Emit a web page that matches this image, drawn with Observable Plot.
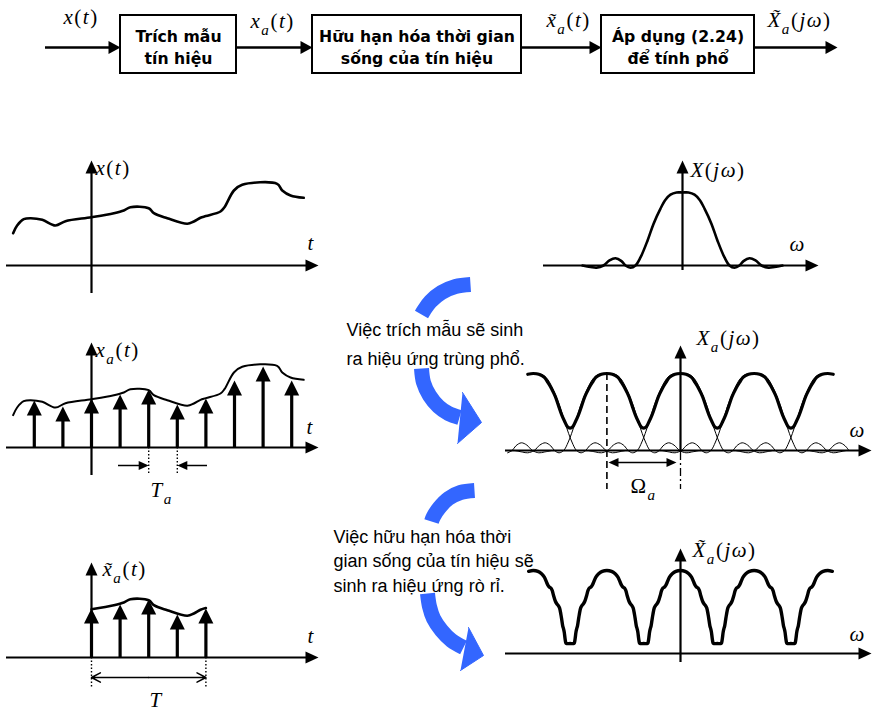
<!DOCTYPE html>
<html><head><meta charset="utf-8">
<script src="https://cdn.jsdelivr.net/npm/d3@7"></script>
<script src="https://cdn.jsdelivr.net/npm/@observablehq/plot@0.6"></script>
<style>
html,body{margin:0;padding:0;background:#fff;}
#chart{position:relative;width:873px;height:711px;overflow:hidden;background:#fff;}
#chart svg{position:absolute;left:0;top:0;}
</style></head><body><div id="chart"></div>
<script>
// ================= DATA =================
const blockLines = ["Trích mẫu\ntín hiệu", "Hữu hạn hóa thời gian\nsống của tín hiệu", "Áp dụng (2.24)\nđể tính phổ"];
const flowLabels = ["x(t)", "x_a(t)", "x\u0303_a(t)", "X\u0303_a(jω)"];
const panelLabels = ["x(t)", "X(jω)", "x_a(t)", "X_a(jω)", "x\u0303_a(t)", "X\u0303_a(jω)"];
const axisNames = ["t", "ω", "t", "ω", "t", "ω"];
const spanLabels = ["T_a", "Ω_a", "T"];
const notes = ["Việc trích mẫu sẽ sinh\nra hiệu ứng trùng phổ.",
               "Việc hữu hạn hóa thời\ngian sống của tín hiệu sẽ\nsinh ra hiệu ứng rò rỉ."];

// continuous signal x(t): t in sampling periods, amplitude in arbitrary units
const signalT = [-2.74,-2.6,-2.37,-2.13,-1.72,-1.26,-0.91,0,0.78,1.13,1.36,2.0,2.18,2.65,3.35,3.58,3.81,4.0,4.51,4.65,4.98,5.27,6.49,6.67,6.96,7.42];
const signalV = [3.23,4.0,4.63,4.73,4.57,4.0,4.43,4.83,5.23,5.5,5.83,5.73,5.23,4.73,4.17,4.4,4.77,4.94,5.4,5.83,7.5,8.07,8.17,7.5,7.0,6.77];
// samples x_a(n Ta)
const sampleN = [-2,-1,0,1,2,3,4,5,6,7];
const sampleV = [4.7,4.1,4.9,5.3,5.8,4.3,4.9,6.7,8.1,6.7];
const windowN = [0, 4];          // observation window (T = 4 Ta)
const taSpan = [2, 3];           // samples used to mark Ta
// spectrum X(jω), normalised to peak 1
const spectrumW = [-100,-92,-86,-79,-73,-67,-61,-57,-52,-47,-42,-35,-29,-22,-17,-12,-6,0,6,12,17,22,29,35,42,47,52,57,61,67,73,79,86,92,100];
const spectrumV = [0,-0.02,-0.03,0,0.07,0.1,0.06,0,-0.03,0,0.11,0.34,0.57,0.78,0.9,0.97,1,1,1,0.97,0.9,0.78,0.57,0.34,0.11,0,-0.03,0,0.06,0.1,0.07,0,-0.03,-0.02,0];
// aliasing: replica spacing Ωa and replica indices
const aliasStep = 80;
const aliasCopies = [-3,-2,-1,0,1,2,3];
const envCopies = [-2,-1,0,1,2];
// one period of the aliased spectrum X_a(jω)
const aliasEnvW = [-37,-34,-31,-28,-24,-20,-16,-12,-6,0,6,12,16,20,24,28,31,34,37,40];
const aliasEnvV = [0.31,0.38,0.46,0.56,0.7,0.8,0.88,0.95,0.99,1,0.99,0.95,0.88,0.8,0.7,0.56,0.46,0.38,0.31,0.29];
// one period of the leaky spectrum X~_a(jω)
const leakW = [-36,-35.3,-34.5,-33.6,-32.8,-32,-31,-30,-28.5,-27,-25.5,-24,-22,-20.5,-19,-17.5,-16,-14,-12,-9,-5,0,5,9,12,14,16,17.5,19,20.5,22,24,25.5,27,28.5,30,31,32,32.8,33.6,34.5,35.3,36,40];
const leakV = [0.12,0.13,0.18,0.26,0.3,0.33,0.4,0.47,0.55,0.58,0.6,0.63,0.7,0.76,0.79,0.8,0.82,0.87,0.92,0.96,0.99,1.0,0.99,0.96,0.92,0.87,0.82,0.8,0.79,0.76,0.7,0.63,0.6,0.58,0.55,0.47,0.4,0.33,0.3,0.26,0.18,0.13,0.12,0.12];

// ================= LAYOUT =================
const W = 873, H = 711;
const BLUE = "#3366ff";
const MATH = "Liberation Serif";
const P = {
  p1: {ox: 91,  oy: 265, ux: 28.6, uy: 10, axL: 6,   axR: 318, axT: 160, axB: 293},
  p2: {ox: 682, oy: 265, ux: 1,    uy: 73, axL: 543, axR: 818, axT: 160, axB: 270},
  p3: {ox: 91,  oy: 447, ux: 28.6, uy: 10, axL: 6,   axR: 318, axT: 342, axB: 475},
  p4: {ox: 680, oy: 450, ux: 0.92, uy: 77, axL: 505, axR: 871, axT: 345, axB: 452},
  p5: {ox: 91,  oy: 657, ux: 28.6, uy: 10, axL: 6,   axR: 318, axT: 562, axB: 657},
  p6: {ox: 680, oy: 653, ux: 0.92, uy: 83, axL: 505, axR: 871, axT: 548, axB: 662}
};
const boxPos = [{x1:120,x2:236,y1:15,y2:73},{x1:312,x2:521,y1:15,y2:73},{x1:601,x2:754,y1:15,y2:73}];
const flowSegs = [[45,120],[236,312],[521,601],[754,837]];
const flowY = 47;
const flowLabelPos = [[63,17],[250,21],[546,20],[767,20]];
const panelLabelPos = [[95,168],[690,170],[95,350],[696,338],[102,569],[692,550]];
const axisNamePos = [[307,243],[789,244],[306,427],[849,430],[307,636],[849,634]];
const spanLabelPos = [[150,490],[630,486],[149,700]];
const notePos = [[346,341,1.56],[333,559,1.36]];
const arcPieces = [
  [[470,284],[455,286],[441,292],[430,301],[424,309],[421,314]],
  [[421,368],[423,382],[429,395],[438,406],[448,413],[459,417]],
  [[474,490],[460,492],[448,498],[439,507],[433,516],[431,521]],
  [[427,593],[429,606],[433,618],[441,630],[451,640],[463,647]]
];
const arcHeads = [
  [[462,392],[481,422],[457,443]],
  [[468,627],[483,655],[460,670]]
];

// ================= HELPERS =================
function tri(dir, len, half) {
  const d = {up:[0,-1], down:[0,1], left:[-1,0], right:[1,0]}[dir];
  return {draw(ctx) {
    const bx = -d[0]*len, by = -d[1]*len, px = -d[1]*half, py = d[0]*half;
    ctx.moveTo(0, 0);
    ctx.lineTo(bx + px, by + py);
    ctx.lineTo(bx - px, by - py);
    ctx.closePath();
  }};
}
const STYLE = "background: transparent; overflow: visible; position:absolute; left:0; top:0;";
const root = document.getElementById("chart");

function panel(Q, build) {
  const ix = px => (px - Q.ox) / Q.ux, iy = py => (Q.oy - py) / Q.uy;
  const axes = [
    Plot.ruleY([0], {x1: ix(Q.axL), x2: ix(Q.axR - 8), stroke: "black", strokeWidth: 2.2}),
    Plot.ruleX([0], {y1: iy(Q.axB), y2: iy(Q.axT + 8), stroke: "black", strokeWidth: 2.2}),
    Plot.dot([0], {x: ix(Q.axR), y: 0, symbol: tri("right", 13, 6), fill: "black", stroke: "none"}),
    Plot.dot([0], {x: 0, y: iy(Q.axT), symbol: tri("up", 13, 6), fill: "black", stroke: "none"})
  ];
  const svg = Plot.plot({
    width: W, height: H, margin: 0, style: STYLE,
    x: {domain: [0, 1], range: [Q.ox, Q.ox + Q.ux], axis: null},
    y: {domain: [0, 1], range: [Q.oy, Q.oy - Q.uy], axis: null},
    marks: [...axes, ...build(ix, iy, Q)]
  });
  root.appendChild(svg);
}

const signal = signalT.map((t, i) => ({t, v: signalV[i]}));
const samples = sampleN.map((n, i) => ({n, v: sampleV[i]}));
const spectrum = spectrumW.map((w, i) => ({w, v: spectrumV[i]}));

function stems(data, Q, w) {
  return [
    Plot.ruleX(data, {x: "n", y1: 0, y2: d => d.v - 12 / Q.uy, stroke: "black", strokeWidth: w}),
    Plot.dot(data, {x: "n", y: "v", symbol: tri("up", 15, 7.5), fill: "black", stroke: "none"})
  ];
}

// ---- panel 1: x(t)
panel(P.p1, () => [
  Plot.line(signal, {x: "t", y: "v", curve: "catmull-rom", stroke: "black", strokeWidth: 2.6})
]);

// ---- panel 2: X(jω)
panel(P.p2, () => [
  Plot.line(spectrum, {x: "w", y: "v", curve: "catmull-rom", stroke: "black", strokeWidth: 2.6})
]);

// ---- panel 3: x_a(t)
panel(P.p3, (ix, iy, Q) => {
  const ya = iy(465);
  return [
    Plot.line(signal, {x: "t", y: "v", curve: "catmull-rom", stroke: "black", strokeWidth: 2}),
    ...stems(samples, Q, 3.2),
    Plot.ruleX(taSpan, {y1: 0, y2: iy(473), stroke: "black", strokeWidth: 1.4, strokeDasharray: "1.5,2"}),
    Plot.ruleY([ya], {x1: ix(118), x2: taSpan[0] - 8 / Q.ux, stroke: "black", strokeWidth: 1.5}),
    Plot.ruleY([ya], {x1: taSpan[1] + 8 / Q.ux, x2: ix(207), stroke: "black", strokeWidth: 1.5}),
    Plot.dot([0], {x: taSpan[0], y: ya, symbol: tri("right", 10, 4.5), fill: "black", stroke: "none"}),
    Plot.dot([0], {x: taSpan[1], y: ya, symbol: tri("left", 10, 4.5), fill: "black", stroke: "none"})
  ];
});

// ---- panel 4: X_a(jω)
panel(P.p4, (ix, iy, Q) => {
  const envMin = ix(525), envMax = ix(838), visMin = ix(507), visMax = ix(850);
  const reps = [];
  for (const c of aliasCopies) spectrum.forEach(d => {
    const x = c * aliasStep + d.w;
    const main = Math.abs(d.w) < 47;
    const vis = x >= visMin && x <= visMax && !(main && (x < envMin || x > envMax));
    reps.push({c, w: x, v: vis ? d.v : NaN});
  });
  const env = [];
  for (const c of envCopies) aliasEnvW.forEach((w, i) => {
    const x = c * aliasStep + w;
    if (x >= envMin && x <= envMax) env.push({w: x, v: aliasEnvV[i]});
  });
  const ya = iy(462);
  return [
    Plot.ruleX([0], {y1: iy(452), y2: iy(489), stroke: "black", strokeWidth: 1.3, strokeDasharray: "8,3,2,3"}),
    Plot.ruleX([-aliasStep], {y1: 1, y2: iy(489), stroke: "black", strokeWidth: 1.6, strokeDasharray: "7,4"}),
    Plot.line(reps, {x: "w", y: "v", z: "c", curve: "catmull-rom", stroke: "black", strokeWidth: 1}),
    Plot.line(env, {x: "w", y: "v", curve: "catmull-rom", stroke: "black", strokeWidth: 3.2}),
    Plot.ruleY([ya], {x1: ix(616), x2: ix(668), stroke: "black", strokeWidth: 1.6}),
    Plot.dot([0], {x: ix(608), y: ya, symbol: tri("left", 10, 4.5), fill: "black", stroke: "none"}),
    Plot.dot([0], {x: ix(676), y: ya, symbol: tri("right", 10, 4.5), fill: "black", stroke: "none"})
  ];
});

// ---- panel 5: x~_a(t)
panel(P.p5, (ix, iy, Q) => {
  const win = samples.filter(d => d.n >= windowN[0] && d.n <= windowN[1]);
  const seg = signal.filter(d => d.t >= windowN[0] && d.t <= windowN[1]);
  const ya = iy(677), mid = (windowN[0] + windowN[1]) / 2;
  return [
    Plot.line(seg, {x: "t", y: "v", curve: "catmull-rom", stroke: "black", strokeWidth: 2.6}),
    ...stems(win, Q, 3.2),
    Plot.ruleX(windowN, {y1: 0, y2: iy(688), stroke: "black", strokeWidth: 1.4, strokeDasharray: "1.5,2"}),
    Plot.arrow([0], {x1: mid, y1: ya, x2: windowN[0], y2: ya, stroke: "black", strokeWidth: 1.5, headLength: 10, headAngle: 55}),
    Plot.arrow([0], {x1: mid, y1: ya, x2: windowN[1], y2: ya, stroke: "black", strokeWidth: 1.5, headLength: 10, headAngle: 55})
  ];
});

// ---- panel 6: X~_a(jω)
panel(P.p6, (ix) => {
  const lo = ix(525), hi = ix(832);
  const pts = [];
  for (const c of envCopies) leakW.forEach((w, i) => {
    const x = c * aliasStep + w;
    if (x >= lo && x <= hi) pts.push({w: x, v: leakV[i]});
  });
  return [
    Plot.line(pts, {x: "w", y: "v", curve: "catmull-rom", stroke: "black", strokeWidth: 3.4})
  ];
});

// ---- overlay: block diagram, notes, labels, blue arrows
const boxes = blockLines.map((text, i) => ({text, ...boxPos[i]}));
const mathItems = [
  ...flowLabels.map((text, i) => ({text, x: flowLabelPos[i][0], y: flowLabelPos[i][1]})),
  ...panelLabels.map((text, i) => ({text, x: panelLabelPos[i][0], y: panelLabelPos[i][1]})),
  ...axisNames.map((text, i) => ({text, x: axisNamePos[i][0], y: axisNamePos[i][1]})),
  ...spanLabels.map((text, i) => ({text, x: spanLabelPos[i][0], y: spanLabelPos[i][1]}))
];
const arcs = arcPieces.flatMap((pts, k) => pts.map(([x, y]) => ({k, x, y})));
const heads = arcHeads.flatMap((pts, k) => pts.map(([x, y]) => ({k, x, y})));

root.appendChild(Plot.plot({
  width: W, height: H, margin: 0, style: STYLE,
  x: {domain: [0, W], range: [0, W], axis: null},
  y: {domain: [0, H], range: [0, H], axis: null},
  marks: [
    Plot.line(arcs, {x: "x", y: "y", z: "k", curve: "catmull-rom", stroke: BLUE, strokeWidth: 15, strokeLinecap: "butt", strokeLinejoin: "round"}),
    Plot.line(heads, {x: "x", y: "y", z: "k", fill: BLUE, stroke: BLUE, strokeWidth: 1}),
    Plot.ruleY(flowSegs, {y: flowY, x1: d => d[0], x2: d => d[1] - 10, stroke: "black", strokeWidth: 2.7}),
    Plot.dot(flowSegs, {x: d => d[1], y: flowY, symbol: tri("right", 12, 6.5), fill: "black", stroke: "none"}),
    Plot.rect(boxes, {x1: "x1", x2: "x2", y1: "y1", y2: "y2", fill: "white", stroke: "black", strokeWidth: 2}),
    Plot.text(boxes, {x: d => (d.x1 + d.x2) / 2, y: d => (d.y1 + d.y2) / 2 + 1, text: "text", fontFamily: "DejaVu Sans", fontWeight: "bold", fontSize: 15.7, lineHeight: 1.42, fill: "black"}),
    Plot.text([notes[0]], {x: notePos[0][0], y: notePos[0][1], text: d => d, textAnchor: "start", fontFamily: "Liberation Sans", fontSize: 18, lineHeight: notePos[0][2], fill: "black"}),
    Plot.text([notes[1]], {x: notePos[1][0], y: notePos[1][1], text: d => d, textAnchor: "start", fontFamily: "Liberation Sans", fontSize: 18, lineHeight: notePos[1][2], fill: "black"}),
    Plot.text(mathItems, {x: "x", y: "y", text: "text", textAnchor: "start", fontFamily: MATH, fontSize: 21, fill: "black"})
  ]
}));

// ---- typeset math labels: italic letters, upright brackets, subscripts
function mathify(el, fs) {
  const s = el.textContent;
  const NS = "http://www.w3.org/2000/svg";
  el.textContent = "";
  el.setAttribute("letter-spacing", "1.5");
  let shift = 0;
  const down = fs * 0.3;
  for (let i = 0; i < s.length; i++) {
    let ch = s[i], isSub = false;
    if (ch === "_") { isSub = true; ch = s[++i]; }
    if (s[i + 1] === "\u0303") { ch += "\u0303"; i++; }
    const t = document.createElementNS(NS, "tspan");
    t.textContent = ch;
    t.setAttribute("font-style", /[A-Za-zω]/.test(ch[0]) ? "italic" : "normal");
    const target = isSub ? down : 0;
    if (target !== shift) { t.setAttribute("dy", String(target - shift)); shift = target; }
    if (isSub) t.setAttribute("font-size", String(fs * 0.72));
    el.appendChild(t);
  }
}
root.querySelectorAll("g[font-family]").forEach(g => {
  if (g.getAttribute("font-family") === MATH) {
    const fs = parseFloat(g.getAttribute("font-size")) || 20;
    g.querySelectorAll("text").forEach(el => mathify(el, fs));
  }
});
</script></body></html>
